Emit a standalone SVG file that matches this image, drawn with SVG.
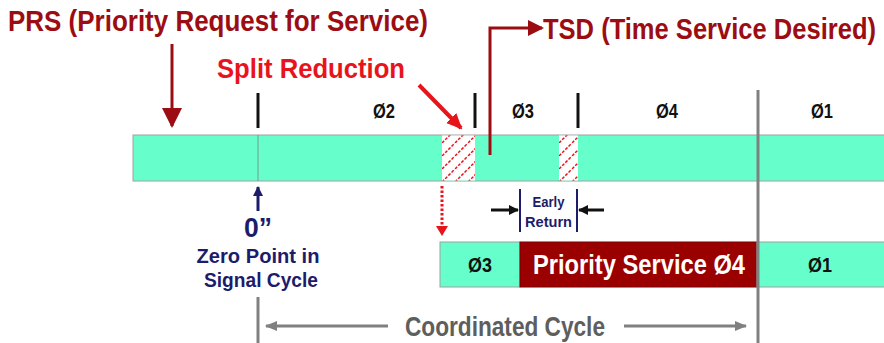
<svg xmlns="http://www.w3.org/2000/svg" width="884" height="343" viewBox="0 0 884 343">
<style>
.t{font-family:"Liberation Sans Narrow","Liberation Sans",Arial,sans-serif;font-weight:bold}
.dr{fill:#9b0d12}
.ph{font-size:20px;fill:#111;text-anchor:middle}
.nv{fill:#1c1c6b;text-anchor:middle}
.bar{fill:#66ffcc;stroke:#a0a0a0;stroke-width:1}
.tick{stroke:#111;stroke-width:3}
</style>
<defs>
<marker id="mDR" markerUnits="userSpaceOnUse" markerWidth="20" markerHeight="20" refX="18" refY="10" orient="auto"><path d="M0,0 L20,10 L0,20 z" fill="#9b0d12"/></marker>
<marker id="mDR2" markerUnits="userSpaceOnUse" markerWidth="16" markerHeight="16" refX="14" refY="8" orient="auto"><path d="M0,0 L16,8 L0,16 z" fill="#9b0d12"/></marker>
<marker id="mR" markerUnits="userSpaceOnUse" markerWidth="16" markerHeight="16" refX="14" refY="8" orient="auto"><path d="M0,1 L16,8 L0,15 z" fill="#e8141c"/></marker>
<marker id="mB" markerUnits="userSpaceOnUse" markerWidth="10" markerHeight="10" refX="9" refY="5" orient="auto"><path d="M0,0 L10,5 L0,10 z" fill="#1c1c6b"/></marker>
<marker id="mK" markerUnits="userSpaceOnUse" markerWidth="10" markerHeight="10" refX="9" refY="5" orient="auto"><path d="M0,0 L10,5 L0,10 z" fill="#111"/></marker>
<marker id="mG" markerUnits="userSpaceOnUse" markerWidth="12" markerHeight="10" refX="11" refY="5" orient="auto"><path d="M0,0 L12,5 L0,10 z" fill="#808080"/></marker>
<pattern id="hatch" patternUnits="userSpaceOnUse" width="13" height="13">
<rect width="13" height="13" fill="#fff"/>
<path d="M0,13 L13,0 M-3,3 L3,-3 M10,16 L16,10" stroke="#e8141c" stroke-width="1.5" stroke-dasharray="3,1.5"/>
</pattern>
</defs>

<g id="titles">
<text class="t dr" x="8" y="31" font-size="30" textLength="420" lengthAdjust="spacingAndGlyphs">PRS (Priority Request for Service)</text>
<text class="t dr" x="543" y="39" font-size="25" transform="matrix(1,0,0,1.2,0,-7.8)" textLength="333" lengthAdjust="spacingAndGlyphs">TSD (Time Service Desired)</text>
<text class="t" x="217" y="78" font-size="28" fill="#e8141c" textLength="188" lengthAdjust="spacingAndGlyphs">Split Reduction</text>
</g>

<g id="phase-ticks">
<line class="tick" x1="258" y1="93" x2="258" y2="128"/>
<line class="tick" x1="475" y1="93" x2="475" y2="128"/>
<line class="tick" x1="578" y1="93" x2="578" y2="128"/>
<text class="t ph" x="384" y="118" textLength="22" lengthAdjust="spacingAndGlyphs">Ø2</text>
<text class="t ph" x="523" y="118" textLength="22" lengthAdjust="spacingAndGlyphs">Ø3</text>
<text class="t ph" x="667" y="118" textLength="22" lengthAdjust="spacingAndGlyphs">Ø4</text>
<text class="t ph" x="822" y="118" textLength="22" lengthAdjust="spacingAndGlyphs">Ø1</text>
</g>

<g id="cycle-bar">
<rect class="bar" x="133" y="135" width="760" height="46"/>
<line x1="258" y1="135" x2="258" y2="181" stroke="#7a9a8a" stroke-width="1"/>
<rect x="442" y="135.5" width="33" height="45" fill="url(#hatch)"/>
<rect x="559" y="135.5" width="19" height="45" fill="url(#hatch)"/>
</g>

<g id="zero-point">
<text class="t nv" x="258" y="237" font-size="28" textLength="28" lengthAdjust="spacingAndGlyphs">0”</text>
<text class="t nv" x="258" y="263" font-size="21" textLength="123" lengthAdjust="spacingAndGlyphs">Zero Point in</text>
<text class="t nv" x="261" y="287" font-size="21" textLength="114" lengthAdjust="spacingAndGlyphs">Signal Cycle</text>
</g>

<g id="early-return">
<line x1="520" y1="189" x2="520" y2="232" stroke="#1c1c6b" stroke-width="2"/>
<line x1="577" y1="189" x2="577" y2="232" stroke="#1c1c6b" stroke-width="2"/>
<text class="t nv" x="548.5" y="207" font-size="15" textLength="32" lengthAdjust="spacingAndGlyphs">Early</text>
<text class="t nv" x="548.5" y="227" font-size="15" textLength="47" lengthAdjust="spacingAndGlyphs">Return</text>
</g>

<g id="priority-bar">
<rect x="440" y="242" width="80" height="45" fill="#66ffcc" stroke="#a0a0a0"/>
<text class="t ph" x="480" y="272" textLength="24" lengthAdjust="spacingAndGlyphs">Ø3</text>
<rect x="520" y="242" width="237" height="45" fill="#9b0000" stroke="#7a0000"/>
<text class="t" x="639" y="274" font-size="27" fill="#fff" text-anchor="middle" textLength="212" lengthAdjust="spacingAndGlyphs">Priority Service Ø4</text>
<rect x="757" y="242" width="130" height="45" fill="#66ffcc" stroke="#a0a0a0"/>
<text class="t ph" x="820" y="272" textLength="24" lengthAdjust="spacingAndGlyphs">Ø1</text>
</g>

<g id="coordinated-cycle">
<text class="t" x="505" y="336" font-size="27" fill="#5e5e5e" text-anchor="middle" textLength="200" lengthAdjust="spacingAndGlyphs">Coordinated Cycle</text>
</g>

<g id="connectors" fill="none">
<line x1="172" y1="44" x2="172" y2="126" stroke="#9b0d12" stroke-width="3" marker-end="url(#mDR)"/>
<path d="M490,155 V28 H542" stroke="#9b0d12" stroke-width="3" marker-end="url(#mDR2)"/>
<line x1="419" y1="85" x2="461" y2="128" stroke="#e8141c" stroke-width="4" marker-end="url(#mR)"/>
<line x1="442" y1="186" x2="442" y2="225" stroke="#e8141c" stroke-width="3" stroke-dasharray="2.5,2"/>
<path d="M436,226 L448,226 L442,236 z" fill="#e8141c"/>
<line x1="258" y1="211" x2="258" y2="187" stroke="#1c1c6b" stroke-width="3" marker-end="url(#mB)"/>
<line x1="491" y1="210" x2="518" y2="210" stroke="#111" stroke-width="3" marker-end="url(#mK)"/>
<line x1="604" y1="210" x2="579" y2="210" stroke="#111" stroke-width="3" marker-end="url(#mK)"/>
<line x1="758" y1="90" x2="758" y2="343" stroke="#808080" stroke-width="3"/>
<line x1="258" y1="297" x2="258" y2="343" stroke="#808080" stroke-width="3"/>
<line x1="388" y1="326" x2="266" y2="326" stroke="#808080" stroke-width="3" marker-end="url(#mG)"/>
<line x1="624" y1="326" x2="746" y2="326" stroke="#808080" stroke-width="3" marker-end="url(#mG)"/>
</g>
</svg>
